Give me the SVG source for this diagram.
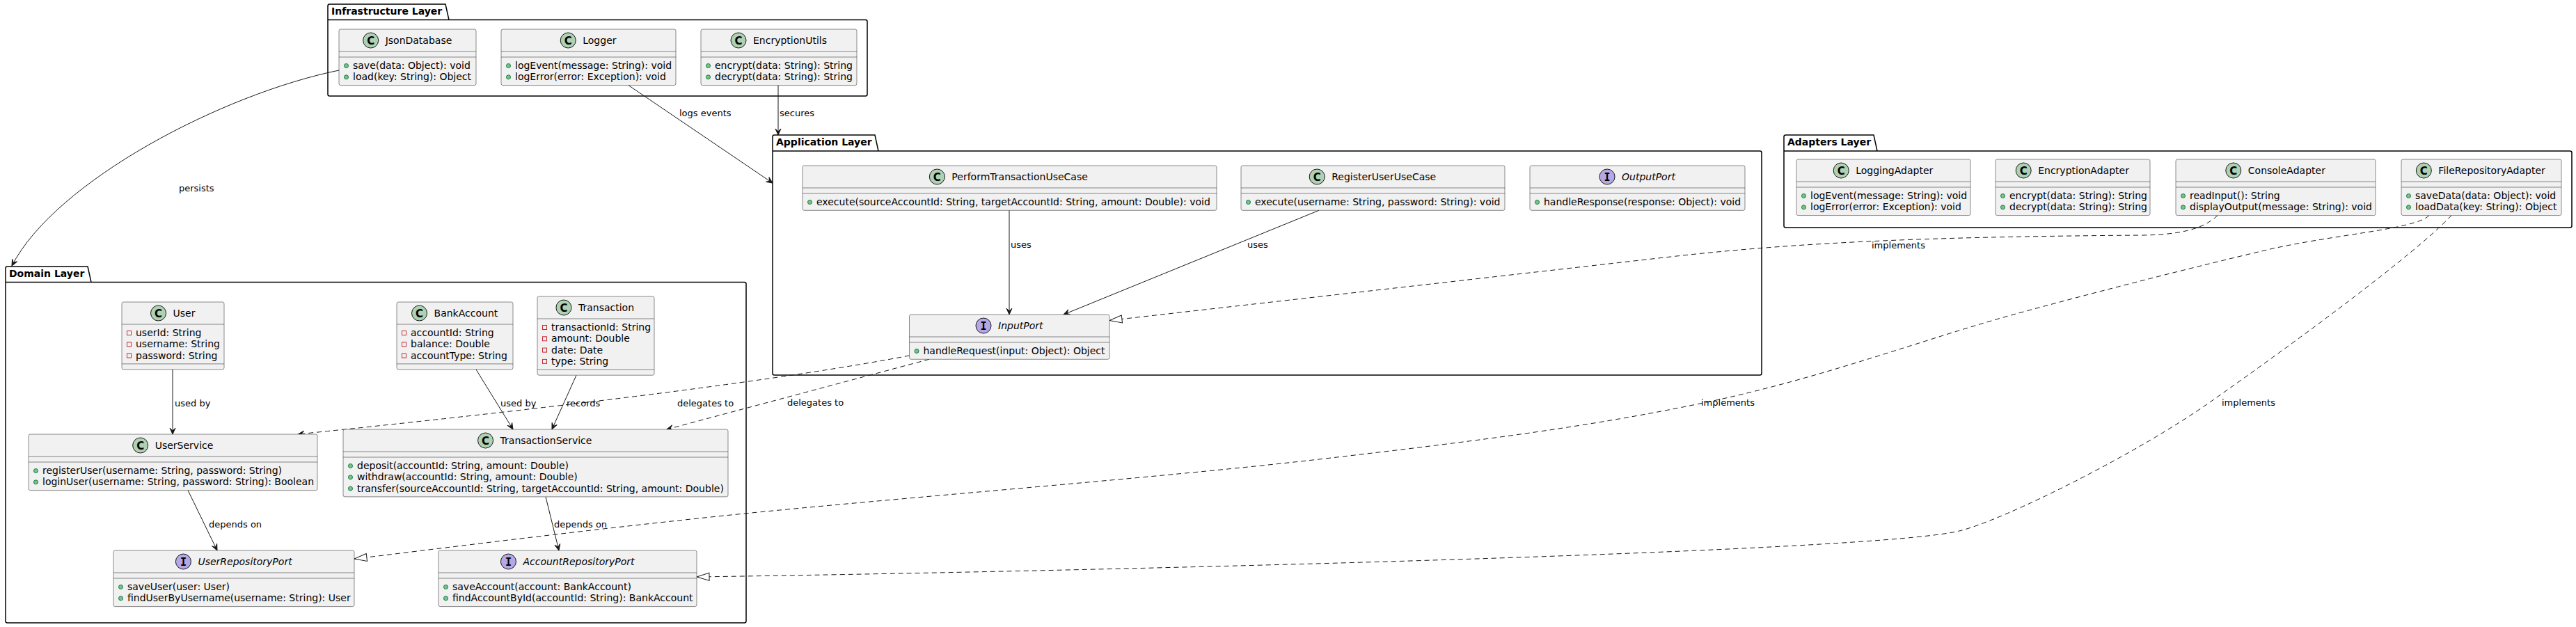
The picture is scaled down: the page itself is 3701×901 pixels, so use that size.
<svg xmlns="http://www.w3.org/2000/svg" width="3701" height="901" viewBox="0 0 3701 901">
<style>
.box{fill:#F1F1F1;stroke:#181818;stroke-width:0.5}
.sep{stroke:#181818;stroke-width:0.5}
.pkg{fill:none;stroke:#000000;stroke-width:1.5}
.t{font-family:"DejaVu Sans",sans-serif;font-size:14px;fill:#000000}
.it{font-style:italic}
.pt{font-weight:bold}
.lbl{font-family:"DejaVu Sans",sans-serif;font-size:13px;fill:#000000}
.ic{stroke:#181818;stroke-width:1}
.cc{fill:#ADD1B2}
.ii{fill:#B4A7E5}
.icl{font-family:"DejaVu Sans",sans-serif;font-weight:bold;font-size:15px;fill:#000000;text-anchor:middle}
.iil{font-family:"DejaVu Sans Mono",monospace;font-weight:bold;font-size:15px;fill:#000000;text-anchor:middle}
.pub{fill:#84BE84;stroke:#038048;stroke-width:1}
.priv{fill:none;stroke:#C82930;stroke-width:1}
.ln{fill:none;stroke:#181818;stroke-width:1}
.dash{stroke-dasharray:7,5}
</style>
<defs>
<marker id="arr" viewBox="-10 -5 11 10" refX="0" refY="0" markerWidth="11" markerHeight="10" markerUnits="userSpaceOnUse" orient="auto" overflow="visible"><path d="M0,0 L-9,-4 L-5,0 L-9,4 Z" fill="#181818" stroke="#181818" stroke-width="1"/></marker>
<marker id="tri" viewBox="-20 -8 21 16" refX="0" refY="0" markerWidth="21" markerHeight="16" markerUnits="userSpaceOnUse" orient="auto" overflow="visible"><path d="M0,0 L-18,-5.5 L-18,5.5 Z" fill="#FFFFFF" stroke="#181818" stroke-width="1"/></marker>
</defs>
<rect x="0" y="0" width="3701" height="901" fill="#FFFFFF"/>

<!-- Packages -->
<g id="pkg-infrastructure">
<path class="pkg" d="M471,28.5 L471,8.5 A2.5,2.5 0 0 1 473.5,6 L640,6 L645,28.5 L1243.5,28.5 A2.5,2.5 0 0 1 1246,31 L1246,135.5 A2.5,2.5 0 0 1 1243.5,138 L473.5,138 A2.5,2.5 0 0 1 471,135.5 Z M471,28.5 L645,28.5"/>
<text class="t pt" x="476" y="21">Infrastructure Layer</text>
</g>
<g id="pkg-application">
<path class="pkg" d="M1110,217 L1110,196.5 A2.5,2.5 0 0 1 1112.5,194 L1257,194 L1262,217 L2528.5,217 A2.5,2.5 0 0 1 2531,219.5 L2531,536.5 A2.5,2.5 0 0 1 2528.5,539 L1112.5,539 A2.5,2.5 0 0 1 1110,536.5 Z M1110,217 L1262,217"/>
<text class="t pt" x="1115" y="209">Application Layer</text>
</g>
<g id="pkg-domain">
<path class="pkg" d="M8,405.5 L8,385.5 A2.5,2.5 0 0 1 10.5,383 L126,383 L131,405.5 L1069.5,405.5 A2.5,2.5 0 0 1 1072,408 L1072,892.5 A2.5,2.5 0 0 1 1069.5,895 L10.5,895 A2.5,2.5 0 0 1 8,892.5 Z M8,405.5 L131,405.5"/>
<text class="t pt" x="13" y="398">Domain Layer</text>
</g>
<g id="pkg-adapters">
<path class="pkg" d="M2563,217 L2563,196.5 A2.5,2.5 0 0 1 2565.5,194 L2692,194 L2697,217 L3692.5,217 A2.5,2.5 0 0 1 3695,219.5 L3695,324.5 A2.5,2.5 0 0 1 3692.5,327 L2565.5,327 A2.5,2.5 0 0 1 2563,324.5 Z M2563,217 L2697,217"/>
<text class="t pt" x="2568" y="209">Adapters Layer</text>
</g>

<!-- Connectors -->
<g id="connectors">
<path class="ln" d="M487,101 C320,135 80,260 17,382" marker-end="url(#arr)"/>
<path class="ln" d="M903,122.6 L1110,263" marker-end="url(#arr)"/>
<path class="ln" d="M1118,122.6 L1118,194" marker-end="url(#arr)"/>
<path class="ln" d="M1450,302.3 L1450,452" marker-end="url(#arr)"/>
<path class="ln" d="M1895,302.3 L1528,452" marker-end="url(#arr)"/>
<path class="ln dash" d="M3186,309.6 C3165,330 3130,337 3080,338 C2800,340 2600,346.35 2400,369 L1594,460.5" marker-end="url(#tri)"/>
<path class="ln dash" d="M1306.5,511 Q1050,560 428,624" marker-end="url(#arr)"/>
<path class="ln dash" d="M1335,516.3 L958,617" marker-end="url(#arr)"/>
<path class="ln" d="M248,531 L248,624" marker-end="url(#arr)"/>
<path class="ln" d="M684,531 L737,617" marker-end="url(#arr)"/>
<path class="ln" d="M828,539.2 L793,617" marker-end="url(#arr)"/>
<path class="ln" d="M270,704.6 L312,791" marker-end="url(#arr)"/>
<path class="ln" d="M784,713.9 L803,791" marker-end="url(#arr)"/>
<path class="ln dash" d="M3490,309.6 C3470,330 3351.3,336.7 3253,360 C3154.7,383.3 3033.5,413.7 2900,450 C2766.5,486.3 2619.5,543 2452,578 C2284.5,613 2128.7,633 1895,660 C1661.3,687 1281,716.2 1050,740 C819,763.8 599.2,792.5 509,803" marker-end="url(#tri)"/>
<path class="ln dash" d="M3522,309.6 C3470,365 3300,490 3175,578 C3070,652 2880,747 2815,763 C2685,795 1500,822 1001,829" marker-end="url(#tri)"/>
<text class="lbl" x="257" y="275">persists</text>
<text class="lbl" x="976" y="167">logs events</text>
<text class="lbl" x="1120" y="167">secures</text>
<text class="lbl" x="1452" y="356">uses</text>
<text class="lbl" x="1792" y="356">uses</text>
<text class="lbl" x="2689" y="357">implements</text>
<text class="lbl" x="973" y="584">delegates to</text>
<text class="lbl" x="1131" y="583">delegates to</text>
<text class="lbl" x="251" y="584">used by</text>
<text class="lbl" x="719" y="584">used by</text>
<text class="lbl" x="814" y="584">records</text>
<text class="lbl" x="300" y="758">depends on</text>
<text class="lbl" x="796" y="758">depends on</text>
<text class="lbl" x="2444" y="583">implements</text>
<text class="lbl" x="3192" y="583">implements</text>
</g>

<!-- Infrastructure classes -->
<g id="JsonDatabase">
<rect class="box" x="487" y="42" width="197" height="80.6" rx="2.5"/>
<circle class="ic cc" cx="532.65" cy="58" r="11"/><text class="icl" x="532.65" y="63.5">C</text>
<text class="t" x="553.65" y="63">JsonDatabase</text>
<line class="sep" x1="487" y1="74" x2="684" y2="74"/><line class="sep" x1="487" y1="82" x2="684" y2="82"/>
<circle class="pub" cx="497.5" cy="94.5" r="3"/><text class="t" x="507" y="99">save(data: Object): void</text>
<circle class="pub" cx="497.5" cy="110.8" r="3"/><text class="t" x="507" y="115.3">load(key: String): Object</text>
</g>
<g id="Logger">
<rect class="box" x="720" y="42" width="251" height="80.6" rx="2.5"/>
<circle class="ic cc" cx="816.25" cy="58" r="11"/><text class="icl" x="816.25" y="63.5">C</text>
<text class="t" x="837.25" y="63">Logger</text>
<line class="sep" x1="720" y1="74" x2="971" y2="74"/><line class="sep" x1="720" y1="82" x2="971" y2="82"/>
<circle class="pub" cx="730.5" cy="94.5" r="3"/><text class="t" x="740" y="99">logEvent(message: String): void</text>
<circle class="pub" cx="730.5" cy="110.8" r="3"/><text class="t" x="740" y="115.3">logError(error: Exception): void</text>
</g>
<g id="EncryptionUtils">
<rect class="box" x="1007" y="42" width="224" height="80.6" rx="2.5"/>
<circle class="ic cc" cx="1061" cy="58" r="11"/><text class="icl" x="1061" y="63.5">C</text>
<text class="t" x="1082" y="63">EncryptionUtils</text>
<line class="sep" x1="1007" y1="74" x2="1231" y2="74"/><line class="sep" x1="1007" y1="82" x2="1231" y2="82"/>
<circle class="pub" cx="1017.5" cy="94.5" r="3"/><text class="t" x="1027" y="99">encrypt(data: String): String</text>
<circle class="pub" cx="1017.5" cy="110.8" r="3"/><text class="t" x="1027" y="115.3">decrypt(data: String): String</text>
</g>

<!-- Application classes -->
<g id="PerformTransactionUseCase">
<rect class="box" x="1153" y="238" width="595" height="64.3" rx="2.5"/>
<circle class="ic cc" cx="1346.35" cy="254" r="11"/><text class="icl" x="1346.35" y="259.5">C</text>
<text class="t" x="1367.35" y="259">PerformTransactionUseCase</text>
<line class="sep" x1="1153" y1="270" x2="1748" y2="270"/><line class="sep" x1="1153" y1="278" x2="1748" y2="278"/>
<circle class="pub" cx="1163.5" cy="290.5" r="3"/><text class="t" x="1173" y="295">execute(sourceAccountId: String, targetAccountId: String, amount: Double): void</text>
</g>
<g id="RegisterUserUseCase">
<rect class="box" x="1783" y="238" width="379" height="64.3" rx="2.5"/>
<circle class="ic cc" cx="1892.2" cy="254" r="11"/><text class="icl" x="1892.2" y="259.5">C</text>
<text class="t" x="1913.2" y="259">RegisterUserUseCase</text>
<line class="sep" x1="1783" y1="270" x2="2162" y2="270"/><line class="sep" x1="1783" y1="278" x2="2162" y2="278"/>
<circle class="pub" cx="1793.5" cy="290.5" r="3"/><text class="t" x="1803" y="295">execute(username: String, password: String): void</text>
</g>
<g id="OutputPort">
<rect class="box" x="2198" y="238" width="309" height="64.3" rx="2.5"/>
<circle class="ic ii" cx="2309.05" cy="254" r="11"/><text class="iil" x="2309.05" y="259.5">I</text>
<text class="t it" x="2330.05" y="259">OutputPort</text>
<line class="sep" x1="2198" y1="270" x2="2507" y2="270"/><line class="sep" x1="2198" y1="278" x2="2507" y2="278"/>
<circle class="pub" cx="2208.5" cy="290.5" r="3"/><text class="t" x="2218" y="295">handleResponse(response: Object): void</text>
</g>
<g id="InputPort">
<rect class="box" x="1306.5" y="452" width="287.5" height="64.3" rx="2.5"/>
<circle class="ic ii" cx="1413" cy="468" r="11"/><text class="iil" x="1413" y="473.5">I</text>
<text class="t it" x="1434" y="473">InputPort</text>
<line class="sep" x1="1306.5" y1="484" x2="1594" y2="484"/><line class="sep" x1="1306.5" y1="492" x2="1594" y2="492"/>
<circle class="pub" cx="1317" cy="504.5" r="3"/><text class="t" x="1326.5" y="509">handleRequest(input: Object): Object</text>
</g>

<!-- Domain classes -->
<g id="User">
<rect class="box" x="175" y="434" width="147" height="96.9" rx="2.5"/>
<circle class="ic cc" cx="227.55" cy="450" r="11"/><text class="icl" x="227.55" y="455.5">C</text>
<text class="t" x="248.55" y="455">User</text>
<line class="sep" x1="175" y1="466" x2="322" y2="466"/>
<rect class="priv" x="182.5" y="475.5" width="6" height="6"/><text class="t" x="195" y="483">userId: String</text>
<rect class="priv" x="182.5" y="491.8" width="6" height="6"/><text class="t" x="195" y="499.3">username: String</text>
<rect class="priv" x="182.5" y="508.1" width="6" height="6"/><text class="t" x="195" y="515.6">password: String</text>
<line class="sep" x1="175" y1="522.9" x2="322" y2="522.9"/>
</g>
<g id="BankAccount">
<rect class="box" x="570" y="434" width="167" height="96.9" rx="2.5"/>
<circle class="ic cc" cx="602.55" cy="450" r="11"/><text class="icl" x="602.55" y="455.5">C</text>
<text class="t" x="623.55" y="455">BankAccount</text>
<line class="sep" x1="570" y1="466" x2="737" y2="466"/>
<rect class="priv" x="577.5" y="475.5" width="6" height="6"/><text class="t" x="590" y="483">accountId: String</text>
<rect class="priv" x="577.5" y="491.8" width="6" height="6"/><text class="t" x="590" y="499.3">balance: Double</text>
<rect class="priv" x="577.5" y="508.1" width="6" height="6"/><text class="t" x="590" y="515.6">accountType: String</text>
<line class="sep" x1="570" y1="522.9" x2="737" y2="522.9"/>
</g>
<g id="Transaction">
<rect class="box" x="772" y="426" width="168" height="113.2" rx="2.5"/>
<circle class="ic cc" cx="809.95" cy="442" r="11"/><text class="icl" x="809.95" y="447.5">C</text>
<text class="t" x="830.95" y="447">Transaction</text>
<line class="sep" x1="772" y1="458" x2="940" y2="458"/>
<rect class="priv" x="779.5" y="467.5" width="6" height="6"/><text class="t" x="792" y="475">transactionId: String</text>
<rect class="priv" x="779.5" y="483.8" width="6" height="6"/><text class="t" x="792" y="491.3">amount: Double</text>
<rect class="priv" x="779.5" y="500.1" width="6" height="6"/><text class="t" x="792" y="507.6">date: Date</text>
<rect class="priv" x="779.5" y="516.4" width="6" height="6"/><text class="t" x="792" y="523.9">type: String</text>
<line class="sep" x1="772" y1="531.2" x2="940" y2="531.2"/>
</g>
<g id="UserService">
<rect class="box" x="41" y="624" width="415" height="80.6" rx="2.5"/>
<circle class="ic cc" cx="201.7" cy="640" r="11"/><text class="icl" x="201.7" y="645.5">C</text>
<text class="t" x="222.7" y="645">UserService</text>
<line class="sep" x1="41" y1="656" x2="456" y2="656"/><line class="sep" x1="41" y1="664" x2="456" y2="664"/>
<circle class="pub" cx="51.5" cy="676.5" r="3"/><text class="t" x="61" y="681">registerUser(username: String, password: String)</text>
<circle class="pub" cx="51.5" cy="692.8" r="3"/><text class="t" x="61" y="697.3">loginUser(username: String, password: String): Boolean</text>
</g>
<g id="TransactionService">
<rect class="box" x="493" y="617" width="553" height="96.9" rx="2.5"/>
<circle class="ic cc" cx="697.55" cy="633" r="11"/><text class="icl" x="697.55" y="638.5">C</text>
<text class="t" x="718.55" y="638">TransactionService</text>
<line class="sep" x1="493" y1="649" x2="1046" y2="649"/><line class="sep" x1="493" y1="657" x2="1046" y2="657"/>
<circle class="pub" cx="503.5" cy="669.5" r="3"/><text class="t" x="513" y="674">deposit(accountId: String, amount: Double)</text>
<circle class="pub" cx="503.5" cy="685.8" r="3"/><text class="t" x="513" y="690.3">withdraw(accountId: String, amount: Double)</text>
<circle class="pub" cx="503.5" cy="702.1" r="3"/><text class="t" x="513" y="706.6">transfer(sourceAccountId: String, targetAccountId: String, amount: Double)</text>
</g>
<g id="UserRepositoryPort">
<rect class="box" x="163" y="791" width="346" height="80.6" rx="2.5"/>
<circle class="ic ii" cx="263.4" cy="807" r="11"/><text class="iil" x="263.4" y="812.5">I</text>
<text class="t it" x="284.4" y="812">UserRepositoryPort</text>
<line class="sep" x1="163" y1="823" x2="509" y2="823"/><line class="sep" x1="163" y1="831" x2="509" y2="831"/>
<circle class="pub" cx="173.5" cy="843.5" r="3"/><text class="t" x="183" y="848">saveUser(user: User)</text>
<circle class="pub" cx="173.5" cy="859.8" r="3"/><text class="t" x="183" y="864.3">findUserByUsername(username: String): User</text>
</g>
<g id="AccountRepositoryPort">
<rect class="box" x="630" y="791" width="371" height="80.6" rx="2.5"/>
<circle class="ic ii" cx="730.45" cy="807" r="11"/><text class="iil" x="730.45" y="812.5">I</text>
<text class="t it" x="751.45" y="812">AccountRepositoryPort</text>
<line class="sep" x1="630" y1="823" x2="1001" y2="823"/><line class="sep" x1="630" y1="831" x2="1001" y2="831"/>
<circle class="pub" cx="640.5" cy="843.5" r="3"/><text class="t" x="650" y="848">saveAccount(account: BankAccount)</text>
<circle class="pub" cx="640.5" cy="859.8" r="3"/><text class="t" x="650" y="864.3">findAccountById(accountId: String): BankAccount</text>
</g>

<!-- Adapter classes -->
<g id="LoggingAdapter">
<rect class="box" x="2581" y="229" width="250" height="80.6" rx="2.5"/>
<circle class="ic cc" cx="2645.2" cy="245" r="11"/><text class="icl" x="2645.2" y="250.5">C</text>
<text class="t" x="2666.2" y="250">LoggingAdapter</text>
<line class="sep" x1="2581" y1="261" x2="2831" y2="261"/><line class="sep" x1="2581" y1="269" x2="2831" y2="269"/>
<circle class="pub" cx="2591.5" cy="281.5" r="3"/><text class="t" x="2601" y="286">logEvent(message: String): void</text>
<circle class="pub" cx="2591.5" cy="297.8" r="3"/><text class="t" x="2601" y="302.3">logError(error: Exception): void</text>
</g>
<g id="EncryptionAdapter">
<rect class="box" x="2867" y="229" width="222" height="80.6" rx="2.5"/>
<circle class="ic cc" cx="2907.2" cy="245" r="11"/><text class="icl" x="2907.2" y="250.5">C</text>
<text class="t" x="2928.2" y="250">EncryptionAdapter</text>
<line class="sep" x1="2867" y1="261" x2="3089" y2="261"/><line class="sep" x1="2867" y1="269" x2="3089" y2="269"/>
<circle class="pub" cx="2877.5" cy="281.5" r="3"/><text class="t" x="2887" y="286">encrypt(data: String): String</text>
<circle class="pub" cx="2877.5" cy="297.8" r="3"/><text class="t" x="2887" y="302.3">decrypt(data: String): String</text>
</g>
<g id="ConsoleAdapter">
<rect class="box" x="3126" y="229" width="287" height="80.6" rx="2.5"/>
<circle class="ic cc" cx="3208.8" cy="245" r="11"/><text class="icl" x="3208.8" y="250.5">C</text>
<text class="t" x="3229.8" y="250">ConsoleAdapter</text>
<line class="sep" x1="3126" y1="261" x2="3413" y2="261"/><line class="sep" x1="3126" y1="269" x2="3413" y2="269"/>
<circle class="pub" cx="3136.5" cy="281.5" r="3"/><text class="t" x="3146" y="286">readInput(): String</text>
<circle class="pub" cx="3136.5" cy="297.8" r="3"/><text class="t" x="3146" y="302.3">displayOutput(message: String): void</text>
</g>
<g id="FileRepositoryAdapter">
<rect class="box" x="3450" y="229" width="230" height="80.6" rx="2.5"/>
<circle class="ic cc" cx="3482.35" cy="245" r="11"/><text class="icl" x="3482.35" y="250.5">C</text>
<text class="t" x="3503.35" y="250">FileRepositoryAdapter</text>
<line class="sep" x1="3450" y1="261" x2="3680" y2="261"/><line class="sep" x1="3450" y1="269" x2="3680" y2="269"/>
<circle class="pub" cx="3460.5" cy="281.5" r="3"/><text class="t" x="3470" y="286">saveData(data: Object): void</text>
<circle class="pub" cx="3460.5" cy="297.8" r="3"/><text class="t" x="3470" y="302.3">loadData(key: String): Object</text>
</g>
</svg>
